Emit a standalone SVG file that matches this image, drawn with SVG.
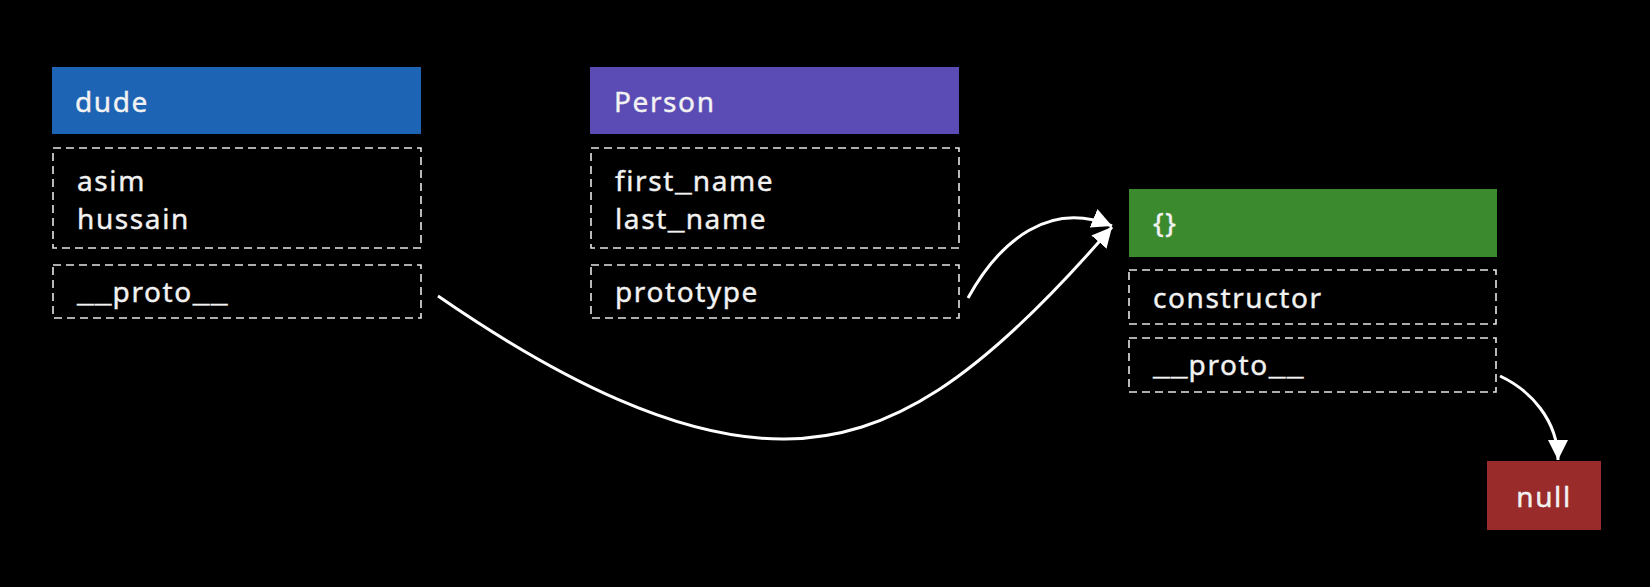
<svg xmlns="http://www.w3.org/2000/svg" width="1650" height="587" viewBox="0 0 1650 587">
<style>
.t{font-family:"Noto Sans","DejaVu Sans",sans-serif;font-size:28px;fill:#f2f2f2;stroke:#f2f2f2;stroke-width:0.4;letter-spacing:1.6px;}
.u{font-family:"Liberation Mono","DejaVu Sans Mono",monospace;letter-spacing:1px;}
.d{fill:none;stroke:#e6e6e6;stroke-width:1.6;stroke-dasharray:8 5;}
.c{fill:none;stroke:#ffffff;stroke-width:3;}
</style>
<defs>
<marker id="ah" markerUnits="userSpaceOnUse" markerWidth="22" markerHeight="22" refX="20" refY="10" orient="auto">
<path d="M0,0 L20,10 L0,20 Z" fill="#ffffff"/>
</marker>
</defs>
<rect width="1650" height="587" fill="#000000"/>
<g id="dude">
<rect x="52" y="67" width="369" height="67" fill="#1d64b4"/>
<text class="t" x="75" y="112">dude</text>
<rect class="d" x="53" y="148" width="368" height="100"/>
<text class="t" x="77" y="191">asim</text>
<text class="t" x="77" y="229">hussain</text>
<rect class="d" x="53" y="265" width="368" height="53"/>
<text class="t" x="77" y="302"><tspan class="u">__</tspan>proto<tspan class="u">__</tspan></text>
</g>
<g id="person">
<rect x="590" y="67" width="369" height="67" fill="#5a4bb5"/>
<text class="t" x="614" y="112">Person</text>
<rect class="d" x="591" y="148" width="368" height="100"/>
<text class="t" x="615" y="191">first<tspan class="u">_</tspan>name</text>
<text class="t" x="615" y="229">last<tspan class="u">_</tspan>name</text>
<rect class="d" x="591" y="265" width="368" height="53"/>
<text class="t" x="615" y="302">prototype</text>
</g>
<g id="object">
<rect x="1129" y="189" width="368" height="68" fill="#3b8a2d"/>
<text class="t" x="1153" y="233">{}</text>
<rect class="d" x="1129" y="270" width="367" height="54"/>
<text class="t" x="1153" y="308">constructor</text>
<rect class="d" x="1129" y="338" width="367" height="54"/>
<text class="t" x="1153" y="375"><tspan class="u">__</tspan>proto<tspan class="u">__</tspan></text>
</g>
<g id="null">
<rect x="1487" y="461" width="114" height="69" fill="#9a2b2b"/>
<text class="t" x="1544" y="507" text-anchor="middle">null</text>
</g>
<g id="connectors">
<path class="c" d="M438,296 C560,380 680,440 785,439 C890,438 980,380 1112,227" marker-end="url(#ah)"/>
<path class="c" d="M968,298 C1000,240 1050,200 1112,226" marker-end="url(#ah)"/>
<path class="c" d="M1500,376 C1530,390 1558,420 1558,460" marker-end="url(#ah)"/>
</g>
</svg>
